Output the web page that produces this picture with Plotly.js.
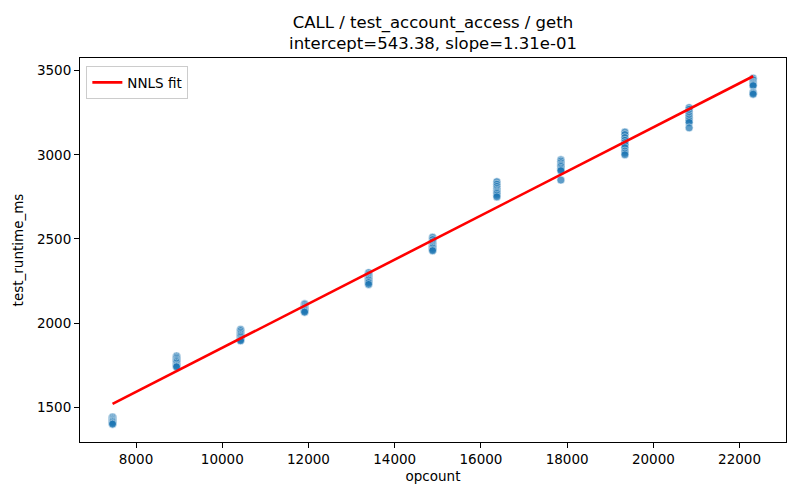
<!DOCTYPE html>
<html>
<head>
<meta charset="utf-8">
<script src="https://cdn.plot.ly/plotly-3.0.1.min.js"></script>
<style>
  html, body { margin: 0; padding: 0; background: #fff; }
  #chart { width: 800px; height: 500px; }
</style>
</head>
<body>
<div id="chart"></div>
<script>
// CALL / test_account_access / geth — runtime vs opcount with NNLS fit

// opcount levels (one cluster of repeated runs per level)
const opcountLevels = [7455, 8940, 10425, 11910, 13395, 14880, 16370, 17855, 19340, 20830, 22315];

// measured test runtimes (ms), one array per opcount level
const runtimeMs = [
  [1443, 1440, 1435, 1430, 1425, 1420, 1417, 1412, 1405, 1400],
  [1805, 1797, 1790, 1782, 1776, 1770, 1762, 1752, 1745, 1740],
  [1963, 1955, 1945, 1936, 1928, 1922, 1915, 1906, 1900, 1895],
  [2115, 2110, 2102, 2096, 2090, 2086, 2081, 2076, 2070, 2065],
  [2300, 2290, 2282, 2272, 2266, 2260, 2255, 2246, 2240, 2230],
  [2510, 2496, 2482, 2470, 2462, 2456, 2450, 2445, 2436, 2430],
  [2840, 2825, 2812, 2800, 2790, 2782, 2776, 2770, 2760, 2750],
  [2970, 2962, 2952, 2942, 2936, 2930, 2920, 2912, 2905, 2850],
  [3135, 3120, 3102, 3086, 3072, 3060, 3042, 3022, 3010, 3000],
  [3280, 3270, 3256, 3242, 3232, 3222, 3212, 3202, 3192, 3160],
  [3455, 3445, 3432, 3426, 3420, 3415, 3410, 3372, 3366, 3360]
];

// NNLS fit parameters (from the title)
const fitIntercept = 543.38;
const fitSlope = 0.131;

function renderChart() {
  const xs = [];
  const ys = [];
  opcountLevels.forEach((oc, i) => {
    runtimeMs[i].forEach(v => { xs.push(oc); ys.push(v); });
  });

  const fitX = [Math.min(...opcountLevels), Math.max(...opcountLevels)];
  const fitY = fitX.map(x => fitIntercept + fitSlope * x);

  const pointsTrace = {
    type: 'scatter', mode: 'markers', x: xs, y: ys,
    marker: { color: '#1f77b4', size: 8, opacity: 0.72, line: { color: '#ffffff', width: 0.6 } },
    showlegend: false, hoverinfo: 'x+y'
  };

  const fitTrace = {
    type: 'scatter', mode: 'lines', x: fitX, y: fitY,
    line: { color: '#ff0000', width: 2.6 },
    name: 'NNLS fit'
  };

  const axisFont = { family: 'DejaVu Sans', size: 13.5, color: '#000' };

  const layout = {
    width: 800, height: 500,
    margin: { l: 80, r: 14, t: 58, b: 58 },
    paper_bgcolor: '#fff', plot_bgcolor: '#fff',
    font: { family: 'DejaVu Sans', color: '#000' },
    title: {
      text: 'CALL / test_account_access / geth<br>intercept=543.38, slope=1.31e-01',
      font: { family: 'DejaVu Sans', size: 16.5, color: '#000' },
      xref: 'paper', x: 0.5, xanchor: 'center',
      yref: 'container', y: 0.944, yanchor: 'top'
    },
    xaxis: {
      range: [6700, 23077], tickvals: [8000, 10000, 12000, 14000, 16000, 18000, 20000, 22000],
      ticktext: ['8000', '10000', '12000', '14000', '16000', '18000', '20000', '22000'],
      ticks: 'outside', ticklen: 5, tickwidth: 1, tickcolor: '#000',
      showline: true, mirror: true, linecolor: '#000', linewidth: 1,
      showgrid: false, zeroline: false, tickfont: axisFont,
      title: { text: 'opcount', font: axisFont, standoff: 5 }
    },
    yaxis: {
      range: [1294, 3575], tickvals: [1500, 2000, 2500, 3000, 3500],
      ticks: 'outside', ticklen: 5, tickwidth: 1, tickcolor: '#000',
      showline: true, mirror: true, linecolor: '#000', linewidth: 1,
      showgrid: false, zeroline: false, tickfont: axisFont,
      title: { text: 'test_runtime_ms', font: axisFont, standoff: 10 }
    },
    legend: {
      x: 0.009, y: 0.979, xanchor: 'left', yanchor: 'top',
      bgcolor: 'rgba(255,255,255,0.8)', bordercolor: '#cccccc', borderwidth: 1,
      font: { family: 'DejaVu Sans', size: 13.5, color: '#000' }
    },
    showlegend: true
  };

  Plotly.newPlot('chart', [pointsTrace, fitTrace], layout, { displayModeBar: false });
}

renderChart();
</script>
</body>
</html>
